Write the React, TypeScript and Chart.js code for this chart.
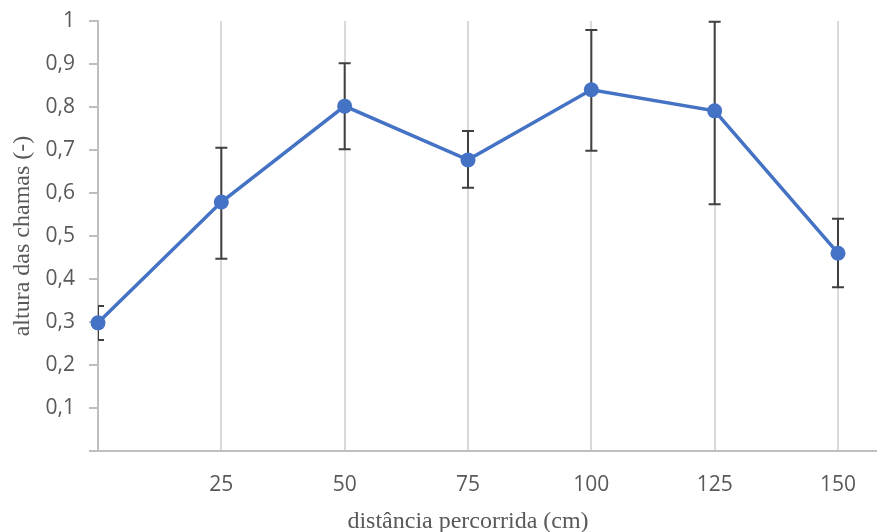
import React, { useEffect, useRef } from 'react';
import { Chart, registerables } from 'chart.js';

Chart.register(...registerables);

const distances = [0, 25, 50, 75, 100, 125, 150];
const heights = [0.298, 0.579, 0.802, 0.677, 0.84, 0.791, 0.46];
const errLow = [0.258, 0.447, 0.702, 0.612, 0.698, 0.574, 0.381];
const errHigh = [0.337, 0.705, 0.902, 0.744, 0.979, 0.998, 0.54];

const xTitle = 'distância percorrida (cm)';
const yTitle = 'altura das chamas (-)';

const AXIS_GRAY = '#bfbfbf';
const GRID_GRAY = '#d9d9d9';
const TEXT_GRAY = '#595959';
const LINE_BLUE = '#4472C4';

const errorBarPlugin = {
  id: 'errorBars',
  beforeDatasetsDraw(chart: any) {
    const { ctx, chartArea, scales } = chart;
    const x = scales.x;
    const y = scales.y;
    ctx.save();
    ctx.beginPath();
    ctx.rect(chartArea.left, 0, chart.width - chartArea.left, chart.height);
    ctx.clip();
    ctx.strokeStyle = '#404040';
    ctx.lineWidth = 2;
    distances.forEach((d, i) => {
      const px = x.getPixelForValue(d);
      const y1 = y.getPixelForValue(errLow[i]);
      const y2 = y.getPixelForValue(errHigh[i]);
      ctx.beginPath();
      ctx.moveTo(px, y1);
      ctx.lineTo(px, y2);
      ctx.moveTo(px - 6, y1);
      ctx.lineTo(px + 6, y1);
      ctx.moveTo(px - 6, y2);
      ctx.lineTo(px + 6, y2);
      ctx.stroke();
    });
    ctx.restore();
  },
  afterDraw(chart: any) {
    const { ctx, chartArea } = chart;
    ctx.save();
    ctx.strokeStyle = AXIS_GRAY;
    ctx.lineWidth = 2;
    ctx.beginPath();
    ctx.moveTo(chartArea.right, chartArea.bottom);
    ctx.lineTo(chart.width, chartArea.bottom);
    ctx.stroke();
    ctx.restore();
  },
};

export default function App() {
  const ref = useRef<HTMLCanvasElement | null>(null);

  useEffect(() => {
    if (!ref.current) return;
    const chart = new Chart(ref.current, {
      type: 'line',
      data: {
        datasets: [
          {
            data: distances.map((d, i) => ({ x: d, y: heights[i] })),
            borderColor: LINE_BLUE,
            backgroundColor: LINE_BLUE,
            borderWidth: 3.5,
            pointRadius: 7.5,
            pointHoverRadius: 7.5,
            pointBorderWidth: 0,
            tension: 0,
            clip: false as any,
          },
        ],
      },
      options: {
        responsive: false,
        animation: false,
        layout: { padding: { left: 0, top: 21, right: 39, bottom: 0 } },
        plugins: {
          legend: { display: false },
          tooltip: { enabled: false },
        },
        scales: {
          x: {
            type: 'linear',
            min: 0,
            max: 150,
            afterFit(scale: any) {
              scale.height = 81;
              scale.paddingLeft = 0;
              scale.paddingRight = 0;
            },
            ticks: {
              stepSize: 25,
              color: TEXT_GRAY,
              padding: 21,
              font: { family: "'Open Sans', sans-serif", size: 21 },
              callback: (v: any) => (v === 0 ? '' : String(v)),
            },
            grid: {
              color: GRID_GRAY,
              lineWidth: 2,
              drawTicks: false,
            },
            border: { color: AXIS_GRAY, width: 2 },
            title: {
              display: true,
              text: xTitle,
              color: TEXT_GRAY,
              font: { family: "'Liberation Serif', 'Times New Roman', serif", size: 24, lineHeight: 1 },
              padding: { top: 0, bottom: -2 },
            },
          },
          y: {
            type: 'linear',
            min: 0,
            max: 1,
            afterFit(scale: any) {
              scale.width = 98;
              scale.paddingTop = 0;
              scale.paddingBottom = 0;
            },
            ticks: {
              stepSize: 0.1,
              color: TEXT_GRAY,
              padding: 14,
              font: { family: "'Open Sans', sans-serif", size: 21 },
              callback: (v: any) => {
                const n = Math.round(Number(v) * 10) / 10;
                if (n === 0) return '';
                return String(n).replace('.', ',');
              },
            },
            grid: {
              drawOnChartArea: false,
              drawTicks: true,
              tickLength: 9,
              color: AXIS_GRAY,
              lineWidth: 2,
            },
            border: { color: AXIS_GRAY, width: 2 },
            title: {
              display: true,
              text: yTitle,
              color: TEXT_GRAY,
              font: { family: "'Liberation Serif', 'Times New Roman', serif", size: 24, lineHeight: 1.2 },
              padding: { top: 8, bottom: 0 },
            },
          },
        },
      } as any,
      plugins: [errorBarPlugin],
    });
    return () => chart.destroy();
  }, []);

  return (
    <div style={{ position: 'absolute', left: 0, top: 0, width: 877, height: 532, background: '#fff' }}>
      <canvas ref={ref} width={877} height={532} />
    </div>
  );
}
